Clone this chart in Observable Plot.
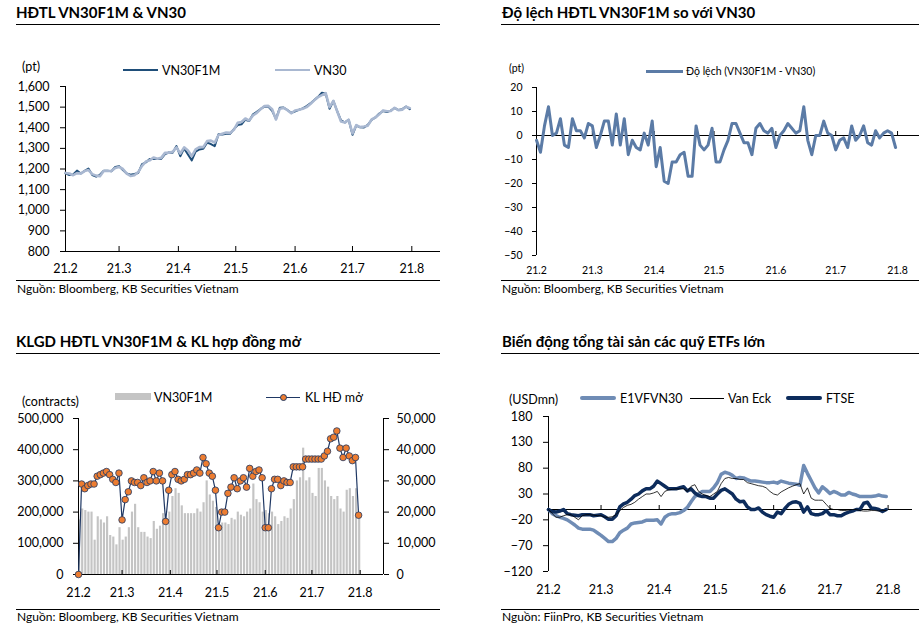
<!DOCTYPE html>
<html><head><meta charset="utf-8">
<script src="https://cdn.jsdelivr.net/npm/d3@7"></script>
<script src="https://cdn.jsdelivr.net/npm/@observablehq/plot@0.6"></script>
<style>
body{margin:0;background:#fff;font-family:Lato,"Open Sans",sans-serif;}
#root{position:relative;width:919px;height:628px;overflow:hidden;background:#fff;}
.t{position:absolute;white-space:nowrap;color:#000;}
.r{position:absolute;height:0;border-top:1.3px solid #000;}
.sw{position:absolute;}
svg{position:absolute;overflow:visible;}
</style></head>
<body><div id="root"></div>
<script>
// ---------- shared x categories ----------
const monthTicks = ["2021-02-01","2021-03-01","2021-04-01","2021-05-01","2021-06-01","2021-07-01","2021-08-01"];
const monthLabels = ["21.2","21.3","21.4","21.5","21.6","21.7","21.8"];
const gridMD = [
 "02-01","02-03","02-05","02-07","02-09","02-11","02-13","02-15","02-17","02-19",
 "02-21","02-23","02-25","02-27","03-01","03-03","03-05","03-07","03-09","03-11",
 "03-13","03-15","03-17","03-19","03-21","03-23","03-25","03-27","03-29","03-31",
 "04-02","04-04","04-06","04-08","04-10","04-12","04-14","04-16","04-18","04-20",
 "04-22","04-24","04-26","04-28","04-30","05-02","05-04","05-06","05-08","05-10",
 "05-12","05-14","05-16","05-18","05-20","05-22","05-24","05-26","05-28","05-30",
 "06-01","06-03","06-05","06-07","06-09","06-11","06-13","06-15","06-17","06-19",
 "06-21","06-23","06-25","06-27","06-29","07-01","07-03","07-05","07-07","07-09",
 "07-11","07-13","07-15","07-17","07-19","07-21","07-23","07-25","07-27","07-29",
 "07-31"];

// ---------- panel 1 & 2: VN30 index and basis (pt) ----------
const vn30 = [
 1181,1178,1170,1180,1178,1190,1195,1175,1168,1165,
 1190,1190,1190,1205,1210,1200,1178,1166,1170,1185,
 1215,1236,1242,1256,1250,1254,1278,1279,1283,1305,
 1275,1305,1290,1262,1295,1306,1306,1335,1338,1328,
 1365,1371,1377,1375,1390,1424,1428,1445,1435,1460,
 1472,1490,1505,1506,1490,1440,1492,1496,1485,1470,
 1484,1487,1492,1500,1515,1533,1548,1558,1568,1500,
 1530,1480,1430,1425,1439,1372,1413,1403,1406,1410,
 1440,1450,1465,1484,1480,1481,1497,1485,1488,1502,
 1495];
const basis = [
 -2,-7,4,12,0,1,7,-4,-5,7,
 2,2,-1,5,4,-5,0,6,6,-4,
 9,-4,7,-8,-2,-5,-6,1,-4,6,
 -13,-5,-19,-20,-11,-11,-8,-7,-17,-17,
 4,-4,-6,-4,3,-11,-11,-6,-2,5,
 5,1,-3,-3,-8,3,5,2,1,3,
 -5,0,2,5,3,1,2,12,-2,-8,
 0,0,6,1,0,-6,-2,-1,-5,4,
 -2,0,4,-3,-4,2,-1,1,2,1,
 -5];
const p1YTicks = [800,900,1000,1100,1200,1300,1400,1500,1600];
const p2YTicks = [-50,-40,-30,-20,-10,0,10,20];

// ---------- panel 3: volume (contracts) and open interest ----------
const volume = [
 175,210,205,200,200,110,185,175,165,185,
 125,120,95,150,110,120,150,200,225,150,
 135,135,120,115,170,145,155,195,180,200,
 250,275,260,220,195,195,195,195,210,200,
 230,300,255,235,215,150,165,165,160,180,
 175,200,190,185,200,210,290,240,230,200,
 205,195,200,185,160,170,185,180,210,240,
 300,310,405,300,310,260,250,340,340,300,
 280,250,240,250,210,200,270,275,250,275,
 180].map(v => v * 1000);
const openInterest = [
 0,29000,27500,28500,29000,29000,31500,32000,32500,33000,
 32000,30500,29500,32500,17500,24000,26500,30000,29500,29500,
 28500,31000,29500,30000,33000,30000,32500,30000,17000,27000,
 32000,33000,30500,30000,30500,32000,32000,32500,33500,32500,
 37500,35500,32500,31500,27000,15000,20000,20000,26000,28000,
 31000,27500,30000,31000,28000,34000,31500,33000,33500,31000,
 15000,15000,27500,30500,30500,28500,30000,29500,29500,34500,
 34500,34500,34500,37000,37000,37000,37000,37000,37000,38000,
 39500,43500,44000,46000,40500,37500,40500,38000,36500,37500,
 19000];
const p3LeftTicks = [0,100000,200000,300000,400000,500000];
const p3RightTicks = [0,10000,20000,30000,40000,50000];

// ---------- panel 4: ETF asset change (USDmn) ----------
const e1vfvn30 = [
 0,-8,-12,-15,-17,-20,-25,-30,-36,-38,
 -38,-38,-40,-45,-50,-56,-62,-62,-56,-45,
 -40,-36,-28,-26,-25,-24,-21,-21,-21,-20,
 -28,-15,-10,-8,-8,-6,-2,4,15,25,
 30,35,35,35,42,52,68,72,70,66,
 60,62,61,58,55,55,54,53,52,52,
 53,51,55,53,51,50,49,47,85,70,
 56,42,32,44,38,31,35,32,28,28,
 33,30,28,25,25,25,25,26,28,26,
 25];
const vanEck = [
 0,-8,-15,-15,-12,-10,-10,-15,-20,-12,
 -10,-10,-11,-12,-12,-15,-15,-14,-10,-2,
 4,8,10,14,20,25,30,30,32,35,
 25,35,38,39,40,40,40,35,45,48,
 35,30,27,25,30,35,50,60,62,60,
 60,58,58,52,50,48,46,45,42,35,
 30,28,34,38,42,45,48,50,30,42,
 22,18,18,18,10,2,0,0,-2,-2,
 -1,0,0,-2,-3,-3,-2,-2,-3,-2,
 -2];
const ftse = [
 0,-4,-5,-3,0,-8,-10,-11,-12,-10,
 -10,-10,-12,-11,-10,-14,-19,-19,-12,5,
 11,14,20,27,30,36,40,40,45,55,
 50,45,40,40,40,42,44,36,40,32,
 27,25,25,22,22,30,37,40,35,30,
 20,15,16,5,0,0,3,-5,-10,-13,
 -15,-5,-8,2,10,14,15,12,-5,5,
 -8,-10,-10,-8,-2,-10,-10,-12,-12,-8,
 -5,-3,0,0,12,14,3,2,0,-4,
 0];
const p4YTicks = [-120,-70,-20,30,80,130,180];

// ---------- build ----------
const root = document.getElementById("root");
const dates = gridMD.map(s => new Date("2021-" + s + "T00:00:00Z"));
const ticks = monthTicks.map(s => new Date(s + "T00:00:00Z"));
const fmtMonth = d => { const k = ticks.findIndex(t => +t === +d); return k >= 0 ? monthLabels[k] : ""; };
const start = ticks[0];
const fmtN = d3.format(",");

function text(x, cy, s, size, weight, anchor) {
  const el = document.createElement("div");
  el.className = "t";
  el.textContent = s;
  el.style.fontSize = size + "px";
  el.style.lineHeight = (size * 1.2) + "px";
  el.style.top = (cy - size * 0.6) + "px";
  el.style.left = x + "px";
  if (weight) el.style.fontWeight = weight;
  root.appendChild(el);
  return el;
}
function rule(x, y, w) {
  const el = document.createElement("div");
  el.className = "r"; el.style.left = x + "px"; el.style.top = y + "px"; el.style.width = w + "px";
  root.appendChild(el);
}
function swatch(x, y, w, h, color, extra) {
  const el = document.createElement("div");
  el.className = "sw";
  Object.assign(el.style, {left: x + "px", top: y + "px", width: w + "px", height: h + "px", background: color}, extra || {});
  root.appendChild(el);
}
function place(svg, x, y) {
  svg.style.left = x + "px"; svg.style.top = y + "px";
  root.appendChild(svg);
}

const navy = "#1f4e79";
const light = "#a9b8d1";
const basisColor = "#5b7ba6";

// Panel 1
const p1data = dates.map((d, i) => ({date: d, vn30: vn30[i], f1m: vn30[i] + basis[i]}));
text(16, 12, "HĐTL VN30F1M & VN30", 15, 700);
rule(16, 24, 424);
text(22, 66, "(pt)", 12.5);
swatch(123, 69, 35, 2, navy);
text(162, 70, "VN30F1M", 12.5);
swatch(275, 68.5, 35, 2.5, light);
text(314, 70, "VN30", 12.5);
place(Plot.plot({
  width: 445, height: 205, marginLeft: 65, marginRight: 5, marginTop: 10, marginBottom: 30,
  style: {fontFamily: "Lato", fontSize: "12.5px", color: "#000", background: "transparent"},
  x: {type: "utc", domain: [start, new Date("2021-08-16T00:00:00Z")]},
  y: {domain: [800, 1600]},
  marks: [
    Plot.axisY({ticks: p1YTicks, tickSize: 5, tickPadding: 11, tickFormat: fmtN, label: null}),
    Plot.axisX({ticks: ticks, tickSize: 0, tickPadding: 13, tickFormat: fmtMonth, label: null}),
    Plot.ruleX([start]),
    Plot.ruleY([800]),
    Plot.ruleX(ticks, {x: d => d, y1: 800, y2: 800, insetTop: -5}),
    Plot.line(p1data, {x: "date", y: "f1m", stroke: navy, strokeWidth: 2}),
    Plot.line(p1data, {x: "date", y: "vn30", stroke: light, strokeWidth: 2.6})
  ]
}), 0, 76);
rule(16, 280, 424);
text(17, 289, "Nguồn: Bloomberg, KB Securities Vietnam", 12);

// Panel 2
const p2data = dates.map((d, i) => ({date: d, basis: basis[i]}));
text(502, 12, "Độ lệch HĐTL VN30F1M so với VN30", 15, 700);
rule(501, 24, 418);
text(509, 68, "(pt)", 10.5);
swatch(646, 69.5, 37, 3.5, basisColor);
text(686, 71, "Độ lệch (VN30F1M - VN30)", 10.5);
place(Plot.plot({
  width: 459, height: 205, marginLeft: 76, marginRight: 0, marginTop: 11, marginBottom: 26,
  style: {fontFamily: "Lato", fontSize: "10.5px", color: "#000", background: "transparent"},
  x: {type: "utc", domain: [start, new Date("2021-08-12T00:00:00Z")]},
  y: {domain: [-50, 20]},
  marks: [
    Plot.axisY({ticks: p2YTicks, tickSize: 4, tickPadding: 10, label: null}),
    Plot.axisX({ticks: ticks, tickSize: 0, tickPadding: 11, tickFormat: fmtMonth, label: null}),
    Plot.ruleX([start]),
    Plot.ruleY([0]),
    Plot.ruleX(ticks, {x: d => d, y1: 0, y2: 0, insetTop: -4}),
    Plot.line(p2data, {x: "date", y: "basis", stroke: basisColor, strokeWidth: 3})
  ]
}), 460, 76);
rule(501, 280, 418);
text(502, 289, "Nguồn: Bloomberg, KB Securities Vietnam", 12);

// Panel 3
const p3data = dates.map((d, i) => ({date: d, vol: volume[i], oi: openInterest[i]}));
const oiScale = 10; // right axis shares the left scale at 1:10
text(16, 341, "KLGD HĐTL VN30F1M & KL hợp đồng mở", 15, 700);
rule(16, 353, 424);
text(22, 401, "(contracts)", 12.5);
swatch(115, 393, 36, 7, "#c4c4c4");
text(154, 397, "VN30F1M", 12.5);
swatch(266, 396.5, 34, 1.2, "#1f3864");
swatch(279.5, 393.5, 5.5, 5.5, "#ed7d31", {borderRadius: "50%", border: "0.8px solid #1f3864"});
text(305, 397, "KL HĐ mở", 12.5);
place(Plot.plot({
  width: 445, height: 205, marginLeft: 78, marginRight: 62, marginTop: 13, marginBottom: 36,
  style: {fontFamily: "Lato", fontSize: "12.5px", color: "#000", background: "transparent"},
  x: {type: "utc", domain: [start, new Date("2021-08-16T00:00:00Z")]},
  y: {domain: [0, 500000]},
  marks: [
    Plot.rectY(p3data, {x: "date", interval: "day", y: "vol", fill: "#c4c4c4", insetRight: -0.6}),
    Plot.axisY({ticks: p3LeftTicks, tickSize: 5, tickPadding: 10, tickFormat: fmtN, label: null}),
    Plot.axisY(p3RightTicks.map(v => v * oiScale), {anchor: "right", tickSize: 5, tickPadding: 8, tickFormat: v => fmtN(v / oiScale), label: null}),
    Plot.axisX({ticks: ticks, tickSize: 0, tickPadding: 14, tickFormat: fmtMonth, label: null}),
    Plot.ruleX([start]),
    Plot.ruleX([new Date("2021-08-16T00:00:00Z")]),
    Plot.ruleY([0]),
    Plot.ruleX(ticks, {x: d => d, y1: 0, y2: 0, insetTop: -4}),
    Plot.line(p3data, {x: "date", y: d => d.oi * oiScale, stroke: "#1f3864", strokeWidth: 1.2}),
    Plot.dot(p3data, {x: "date", y: d => d.oi * oiScale, r: 3.3, fill: "#ed7d31", stroke: "#1f3864", strokeWidth: 0.8})
  ]
}), 0, 405);
rule(16, 609, 424);
text(17, 617, "Nguồn: Bloomberg, KB Securities Vietnam", 12);

// Panel 4
const p4data = dates.map((d, i) => ({date: d, e1: e1vfvn30[i], ve: vanEck[i], ft: ftse[i]}));
const e1Color = "#6f8cb5", ftseColor = "#0d2c5c";
text(502, 341, "Biến động tổng tài sản các quỹ ETFs lớn", 15, 700);
rule(501, 353, 418);
text(509, 399, "(USDmn)", 12.5);
swatch(580, 396, 36, 4, e1Color, {borderRadius: "2px"});
text(620, 398, "E1VFVN30", 12.5);
swatch(690, 397.5, 34, 1, "#000");
text(728, 398, "Van Eck", 12.5);
swatch(786, 396, 36, 4, ftseColor, {borderRadius: "2px"});
text(826, 398, "FTSE", 12.5);
place(Plot.plot({
  width: 459, height: 205, marginLeft: 88, marginRight: 7, marginTop: 11, marginBottom: 39,
  style: {fontFamily: "Lato", fontSize: "12.5px", color: "#000", background: "transparent"},
  x: {type: "utc", domain: [start, new Date("2021-08-14T00:00:00Z")]},
  y: {domain: [-120, 180]},
  marks: [
    Plot.axisY({ticks: p4YTicks, tickSize: 5, tickPadding: 11, label: null}),
    Plot.axisX({ticks: ticks, tickSize: 0, tickPadding: 14, tickFormat: fmtMonth, label: null}),
    Plot.ruleX([start]),
    Plot.ruleY([0]),
    Plot.ruleX(ticks, {x: d => d, y1: 0, y2: 0, insetTop: -4}),
    Plot.line(p4data, {x: "date", y: "e1", stroke: e1Color, strokeWidth: 3.5}),
    Plot.line(p4data, {x: "date", y: "ft", stroke: ftseColor, strokeWidth: 3.5}),
    Plot.line(p4data, {x: "date", y: "ve", stroke: "#000", strokeWidth: 0.8})
  ]
}), 460, 405);
rule(501, 609, 418);
text(502, 617, "Nguồn: FiinPro, KB Securities Vietnam", 12);
</script>
</body></html>
